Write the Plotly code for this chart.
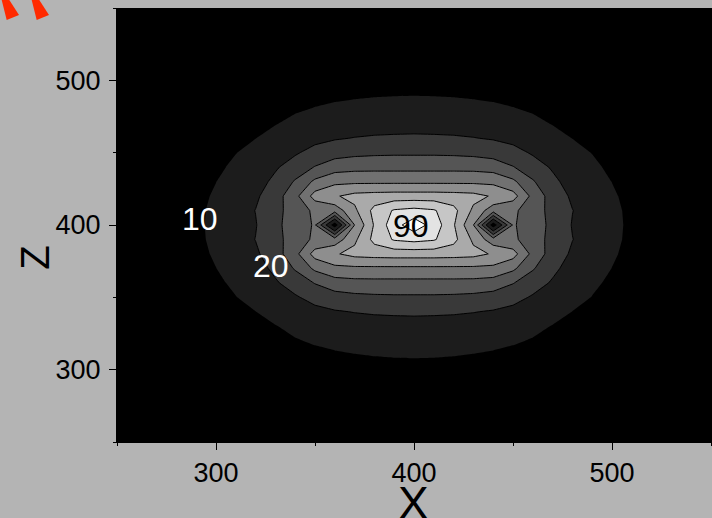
import plotly.graph_objects as go

# grid coordinates (data units)
x_vals = [280, 290, 300, 310, 320, 330, 340, 350, 360, 370, 380, 390, 400,
          410, 420, 430, 440, 450, 460, 470, 480, 490, 500, 510, 520]
z_vals = [290, 300, 310, 320, 330, 340, 350, 360, 370, 380, 390, 400,
          410, 420, 430, 440, 450, 460, 470, 480, 490, 500, 510]

# field values, one row per z value (bottom to top)
field = [
    [0.9, 1.2, 1.6, 2, 2.4, 2.9, 3.4, 3.9, 4.3, 4.7, 5, 5.2, 5.3, 5.2, 5, 4.7, 4.3, 3.9, 3.4, 2.9, 2.4, 2, 1.6, 1.2, 0.9],
    [1.3, 1.8, 2.4, 3, 3.7, 4.4, 5.2, 6, 6.6, 7.1, 7.5, 7.7, 7.8, 7.7, 7.5, 7.1, 6.6, 6, 5.2, 4.4, 3.7, 3, 2.4, 1.8, 1.3],
    [1.8, 2.6, 3.4, 4.3, 5.3, 6.3, 7.3, 8.3, 9.1, 9.7, 10.2, 10.5, 10.6, 10.5, 10.2, 9.7, 9.1, 8.3, 7.3, 6.3, 5.3, 4.3, 3.4, 2.6, 1.8],
    [2.2, 3.1, 4.2, 5.4, 6.7, 8.1, 9.5, 10.8, 11.8, 12.5, 13, 13.3, 13.4, 13.3, 13, 12.5, 11.8, 10.8, 9.5, 8.1, 6.7, 5.4, 4.2, 3.1, 2.2],
    [2.4, 3.4, 4.8, 6.2, 7.8, 9.7, 11.8, 13.5, 14.8, 15.6, 16.1, 16.4, 16.5, 16.4, 16.1, 15.6, 14.8, 13.5, 11.8, 9.7, 7.8, 6.2, 4.8, 3.4, 2.4],
    [2.8, 4, 5.8, 7.8, 9.9, 12.8, 15.3, 17.5, 19.2, 20.3, 21, 21.3, 21.5, 21.3, 21, 20.3, 19.2, 17.5, 15.3, 12.8, 9.9, 7.8, 5.8, 4, 2.8],
    [3.3, 5, 7.3, 9.8, 12.5, 15.5, 19, 23, 26, 27.5, 28.2, 28.5, 28.5, 28.5, 28.2, 27.5, 26, 23, 19, 15.5, 12.5, 9.8, 7.3, 5, 3.3],
    [4, 6, 8.5, 11.5, 15, 19, 24, 30.5, 35.5, 36.8, 37, 37, 37, 37, 37, 36.8, 35.5, 30.5, 24, 19, 15, 11.5, 8.5, 6, 4],
    [4.5, 7, 9.9, 13.5, 16.5, 22, 31, 42, 47.5, 48, 48, 48, 48, 48, 48, 48, 47.5, 42, 31, 22, 16.5, 13.5, 9.9, 7, 4.5],
    [5, 7.8, 11, 14.5, 18.5, 25.5, 37, 54, 59, 63, 64, 64.5, 64.5, 64.5, 64, 63, 59, 54, 37, 25.5, 18.5, 14.5, 11, 7.8, 5],
    [5.5, 8.3, 11.8, 15.5, 20.2, 27, 34.5, 42, 44, 58, 73, 81, 83, 81, 73, 58, 44, 42, 34.5, 27, 20.2, 15.5, 11.8, 8.3, 5.5],
    [6, 8.5, 12, 16, 19.5, 27.5, 35, 41, 3, 50, 71, 86, 96, 86, 71, 50, 3, 41, 35, 27.5, 19.5, 16, 12, 8.5, 6],
    [5.5, 8.3, 11.8, 15.5, 20.2, 27, 34.5, 42, 44, 58, 73, 81, 83, 81, 73, 58, 44, 42, 34.5, 27, 20.2, 15.5, 11.8, 8.3, 5.5],
    [5, 7.8, 11, 14.5, 18.5, 25.5, 37, 54, 59, 63, 64, 64.5, 64.5, 64.5, 64, 63, 59, 54, 37, 25.5, 18.5, 14.5, 11, 7.8, 5],
    [4.5, 7, 9.9, 13.5, 16.5, 22, 31, 42, 47.5, 48, 48, 48, 48, 48, 48, 48, 47.5, 42, 31, 22, 16.5, 13.5, 9.9, 7, 4.5],
    [4, 6, 8.5, 11.5, 15, 19, 24, 30.5, 35.5, 36.8, 37, 37, 37, 37, 37, 36.8, 35.5, 30.5, 24, 19, 15, 11.5, 8.5, 6, 4],
    [3.3, 5, 7.3, 9.8, 12.5, 15.5, 19, 23, 26, 27.5, 28.2, 28.5, 28.5, 28.5, 28.2, 27.5, 26, 23, 19, 15.5, 12.5, 9.8, 7.3, 5, 3.3],
    [2.8, 4, 5.8, 7.8, 9.9, 12.8, 15.3, 17.5, 19.2, 20.3, 21, 21.3, 21.5, 21.3, 21, 20.3, 19.2, 17.5, 15.3, 12.8, 9.9, 7.8, 5.8, 4, 2.8],
    [2.4, 3.4, 4.8, 6.2, 7.8, 9.7, 11.8, 13.5, 14.8, 15.6, 16.1, 16.4, 16.5, 16.4, 16.1, 15.6, 14.8, 13.5, 11.8, 9.7, 7.8, 6.2, 4.8, 3.4, 2.4],
    [2.1, 3, 4, 5.2, 6.4, 7.8, 9.2, 10.4, 11.4, 12.1, 12.6, 12.9, 13, 12.9, 12.6, 12.1, 11.4, 10.4, 9.2, 7.8, 6.4, 5.2, 4, 3, 2.1],
    [1.7, 2.4, 3.2, 4.1, 5, 6, 7, 7.9, 8.6, 9.1, 9.5, 9.7, 9.8, 9.7, 9.5, 9.1, 8.6, 7.9, 7, 6, 5, 4.1, 3.2, 2.4, 1.7],
    [1.3, 1.8, 2.3, 2.9, 3.5, 4.2, 4.9, 5.6, 6.2, 6.7, 7, 7.2, 7.3, 7.2, 7, 6.7, 6.2, 5.6, 4.9, 4.2, 3.5, 2.9, 2.3, 1.8, 1.3],
    [0.9, 1.2, 1.6, 2, 2.4, 2.8, 3.3, 3.7, 4.1, 4.4, 4.7, 4.9, 5, 4.9, 4.7, 4.4, 4.1, 3.7, 3.3, 2.8, 2.4, 2, 1.6, 1.2, 0.9],
]

tick_vals = [300, 400, 500]
tick_text = ["300", "400", "500"]
minor_vals = [250, 350, 450, 550]

label_text = ["10", "20", "90"]
label_x = [292, 328, 398.5]
label_z = [404, 372, 399]
label_color = ["white", "white", "black"]

FONT = "Liberation Sans, Arial, sans-serif"

fig = go.Figure()
fig.add_trace(go.Contour(
    x=x_vals, y=z_vals, z=field,
    colorscale=[[0, "black"], [1, "white"]],
    contours=dict(start=10, end=90, size=10, coloring="fill", showlines=False),
    line=dict(width=0, smoothing=0),
    showscale=False, hoverinfo="skip",
))
fig.add_trace(go.Contour(
    x=x_vals, y=z_vals, z=field,
    contours=dict(start=20, end=90, size=10, coloring="none", showlines=True),
    line=dict(color="black", width=1, smoothing=0),
    showscale=False, hoverinfo="skip",
))

for t, lx, lz, c in zip(label_text, label_x, label_z, label_color):
    fig.add_annotation(x=lx, y=lz, text=t, showarrow=False,
                       font=dict(family=FONT, size=32, color=c),
                       xanchor="center", yanchor="middle")

# axis titles
fig.add_annotation(xref="paper", yref="paper", x=0.4975, y=-0.075, text="X",
                   showarrow=False, xanchor="center", yanchor="top",
                   font=dict(family=FONT, size=46, color="black"))
fig.add_annotation(xref="paper", yref="paper", x=-0.138, y=0.424, text="Z",
                   showarrow=False, xanchor="center", yanchor="middle", textangle=-90,
                   font=dict(family=FONT, size=40, color="black"))

# decorative red markers at the top-left corner
red = "#ff2a00"
for off in [0.0, 0.0504]:
    p = [(-0.1938 + off, 1.0184), (-0.1810 + off, 1.0184), (-0.1647 + off, 0.9839), (-0.1854 + off, 0.9724)]
    path = "M {} {} L {} {} L {} {} L {} {} Z".format(*[v for pt in p for v in pt])
    fig.add_shape(type="path", xref="paper", yref="paper", path=path,
                  fillcolor=red, line=dict(width=0), layer="above")

axis_common = dict(
    tickvals=tick_vals, ticktext=tick_text, ticks="outside", ticklen=7, tickwidth=1,
    tickcolor="black", showline=True, linecolor="black", linewidth=1,
    showgrid=False, zeroline=False, mirror=False,
    tickfont=dict(family=FONT, size=27, color="black"),
    minor=dict(tickvals=minor_vals, ticks="outside", ticklen=3, tickwidth=1, tickcolor="black"),
)

fig.update_layout(
    width=712, height=518,
    margin=dict(l=117, r=0, t=8, b=76),
    paper_bgcolor="#b4b4b4", plot_bgcolor="black",
    showlegend=False,
    xaxis=dict(range=[250, 550.5], **axis_common),
    yaxis=dict(range=[250, 550], ticklabelstandoff=3, **axis_common),
)

fig.write_html(
    "out.html",
    config={"displayModeBar": False},
    post_script="document.body.style.margin='0';document.body.style.overflow='hidden';",
)
